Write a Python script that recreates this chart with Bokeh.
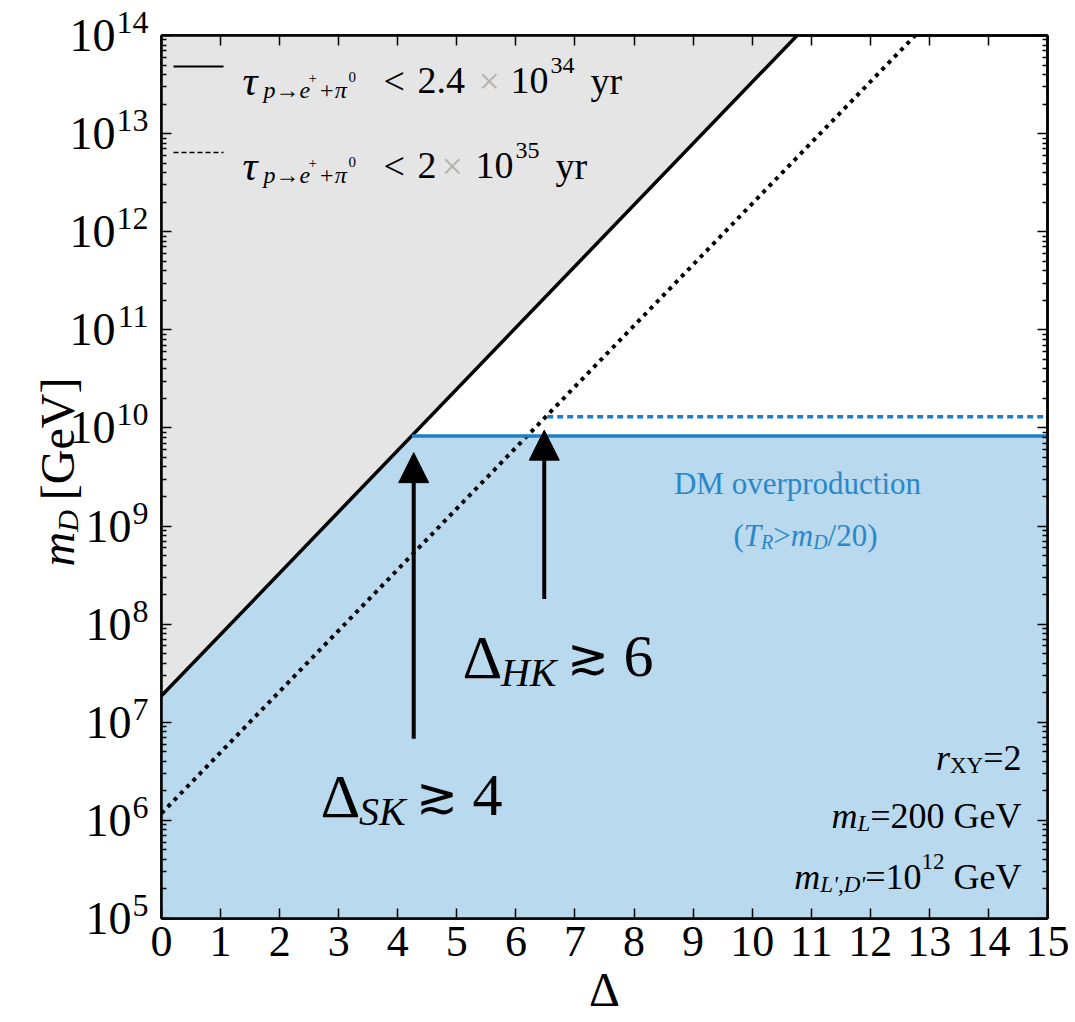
import numpy as np
from bokeh.plotting import figure
from bokeh.layouts import row, column
from bokeh.models import (Range1d, LinearAxis, LogAxis, FixedTicker, Label, Arrow,
                          NormalHead, CustomJSTickFormatter)
from bokeh.embed import file_html
from bokeh.resources import INLINE

# ---------------- data ----------------
X_RANGE = [0.0, 15.0]
Y_RANGE = [1e5, 1e14]
x_tick_values = list(range(0, 16))
y_tick_exponents = list(range(5, 15))

# proton-decay bounds (straight lines in log space)
sk_delta = [0.0, 10.76]          # tau < 2.4e34 yr
sk_mD = [1.86e7, 1.0e14]
hk_delta = [0.0, 12.76]          # tau < 2e35 yr
hk_mD = [1.18e6, 1.0e14]

# DM overproduction boundaries
dm_delta = [4.24, 15.0]
dm_mD = [8.3e9, 8.3e9]
dm2_delta = [6.53, 15.0]
dm2_mD = [1.3e10, 1.3e10]

# arrows (SK, HK)
arrow_delta = [4.27, 6.48]
arrow_tail_mD = [6.8e6, 1.8e8]
arrow_head_mD = [5.6e9, 9.5e9]

# ---------------- styles / geometry (page pixels) ----------------
SERIF = "Liberation Serif"
GRAY_FILL = "#e5e5e5"
BLUE_FILL = "#b9d9ee"
BLUE_LINE = "#1f80c6"
BLUE_TEXT = "#2b87c9"

PAGE_H = 1021
LEFT_W = 149                       # strip with y tick labels / y title
FX0, FX1, FY0, FY1 = 161.0, 1047.0, 35.0, 918.0   # plot frame
MAIN_LEFT = LEFT_W
MAIN_W = 924

L0, L1 = np.log10(Y_RANGE[0]), np.log10(Y_RANGE[1])
DEC = (FY1 - FY0) / (L1 - L0)
XU = (FX1 - FX0) / (X_RANGE[1] - X_RANGE[0])


def to_data(px, py):
    x = X_RANGE[0] + (px - FX0) / XU
    ly = L1 - (py - FY0) / DEC
    return float(x), float(10 ** ly)


p = figure(frame_width=int(FX1 - FX0), frame_height=int(FY1 - FY0),
           x_range=Range1d(*X_RANGE), y_range=Range1d(*Y_RANGE),
           y_axis_type="log", output_backend="svg", toolbar_location=None,
           min_border_left=int(FX0 - MAIN_LEFT),
           min_border_right=int(MAIN_LEFT + MAIN_W - FX1),
           min_border_top=int(FY0),
           min_border_bottom=int(PAGE_H - FY1))
p.grid.visible = False
p.outline_line_color = "black"
p.outline_line_width = 2.5

# fills
gray_x = [sk_delta[0], sk_delta[1], X_RANGE[0]]
gray_y = [sk_mD[0], sk_mD[1], Y_RANGE[1]]
p.patch(gray_x, gray_y, fill_color=GRAY_FILL, line_color=None)
blue_x = [X_RANGE[0], sk_delta[0], dm_delta[0], dm_delta[1], X_RANGE[1]]
blue_y = [Y_RANGE[0], sk_mD[0], dm_mD[0], dm_mD[1], Y_RANGE[0]]
p.patch(blue_x, blue_y, fill_color=BLUE_FILL, line_color=None)

# lines
p.line(sk_delta, sk_mD, line_color="black", line_width=3.5)
p.line(hk_delta, hk_mD, line_color="black", line_width=4, line_dash="4 5")
p.line(dm_delta, dm_mD, line_color=BLUE_LINE, line_width=3.5)
p.line(dm2_delta, dm2_mD, line_color=BLUE_LINE, line_width=3.5, line_dash="6 4")

# arrows
for xd, y0, y1 in zip(arrow_delta, arrow_tail_mD, arrow_head_mD):
    p.add_layout(Arrow(x_start=xd, y_start=y0, x_end=xd, y_end=y1,
                       line_width=4, line_color="black",
                       end=NormalHead(size=30, fill_color="black",
                                      line_color="black", line_width=1)))

# ---------------- axes ----------------
y_major = [10.0 ** e for e in y_tick_exponents]
y_minor = [k * 10.0 ** e for e in y_tick_exponents[:-1] for k in range(2, 10)]
blank = CustomJSTickFormatter(code="return '';")


def style_axis(ax):
    ax.axis_line_width = 2.5
    ax.axis_line_color = "black"
    ax.major_tick_in = 10
    ax.major_tick_out = 0
    ax.minor_tick_in = 5
    ax.minor_tick_out = 0
    ax.major_tick_line_width = 1.5
    ax.minor_tick_line_width = 1.5
    ax.major_tick_line_color = "black"
    ax.minor_tick_line_color = "black"
    ax.major_label_standoff = 0


def blank_labels(ax):
    ax.major_label_text_font_size = "1px"
    ax.formatter = blank


xa = p.xaxis[0]
xa.ticker = FixedTicker(ticks=x_tick_values, minor_ticks=[])
style_axis(xa)
xa.major_label_text_font = SERIF
xa.major_label_text_font_size = "44px"
xa.major_label_text_color = "black"
xa.major_label_standoff = 8
xa.axis_label = "\u0394"
xa.axis_label_text_font = SERIF
xa.axis_label_text_font_size = "48px"
xa.axis_label_text_font_style = "normal"
xa.axis_label_text_color = "black"
xa.axis_label_standoff = 4

ya = p.yaxis[0]
ya.ticker = FixedTicker(ticks=y_major, minor_ticks=y_minor)
style_axis(ya)
blank_labels(ya)
top = LinearAxis(ticker=FixedTicker(ticks=x_tick_values, minor_ticks=[]))
style_axis(top)
blank_labels(top)
p.add_layout(top, "above")
right = LogAxis(ticker=FixedTicker(ticks=y_major, minor_ticks=y_minor))
style_axis(right)
blank_labels(right)
p.add_layout(right, "right")

# ---------------- left strip sharing the plot's log scale ----------------
left = figure(width=LEFT_W, height=PAGE_H,
              x_range=Range1d(0, LEFT_W),
              y_range=Range1d(10 ** (L1 - (PAGE_H - FY0) / DEC), 10 ** (L1 + FY0 / DEC)),
              y_axis_type="log", x_axis_location=None, y_axis_location=None,
              toolbar_location=None, output_backend="svg", min_border=0,
              outline_line_color=None)
left.grid.visible = False

# ---------------- text helpers ----------------
CW = {' ': .25, '(': .333, ')': .333, '+': .564, ',': .25, '.': .25, '/': .278,
      '<': .564, '=': .564, '>': .564, 'D': .722, 'G': .722, 'M': .889, 'V': .722,
      '[': .333, ']': .333, 'c': .444, 'd': .5, 'e': .444, 'i': .278, 'n': .5,
      'o': .5, 'p': .5, 'r': .333, 't': .278, 'u': .5, 'v': .5, 'y': .5,
      '\u00d7': .564, "'": .18, 'X': .722, 'Y': .722, '\u0394': .62,
      '\u2273': .84, '\u2192': .9, '\u03c0': .55, '\u03c4': .45}
CWI = {'m': .722, 'D': .722, 'L': .556, 'T': .556, 'R': .611, 'r': .389, 'p': .5,
       'e': .444, 'S': .5, 'K': .667, 'H': .722, "'": .214, ',': .25}


def twidth(s, size, italic=False):
    w = 0.0
    for c in s:
        if c.isdigit():
            w += .5
        elif italic and c in CWI:
            w += CWI[c]
        else:
            w += CW.get(c, .5)
    return w * size


def put(fig, s, x, y, size, italic=False, color="black", angle=0.0, align="left",
        baseline="alphabetic", y_offset=0):
    fig.add_layout(Label(x=x, y=y, text=s, text_font=SERIF,
                         text_font_size=f"{size}px",
                         text_font_style="italic" if italic else "normal",
                         text_color=color, text_align=align,
                         text_baseline=baseline, angle=angle, y_offset=y_offset))


def put_px(s, px, py, size, italic=False, color="black", align="left"):
    x, y = to_data(px, py)
    put(p, s, x, y, size, italic, color, align=align)


def rich(parts, px, py, align="left"):
    """parts: (text, size, italic, color, rise_px)"""
    if align == "right":
        x = px
        for t, s, it, c, r in reversed(parts):
            trail = len(t) - len(t.rstrip(' '))
            if t.strip():
                put_px(t.strip(), x - trail * .25 * s, py - r, s, it, c, align="right")
            x -= twidth(t, s, it)
        return
    total = sum(twidth(t, s, it) for t, s, it, c, r in parts)
    x = px - total / 2 if align == "center" else px
    for t, s, it, c, r in parts:
        lead = len(t) - len(t.lstrip(' '))
        if t.strip():
            put_px(t.strip(), x + lead * .25 * s, py - r, s, it, c)
        x += twidth(t, s, it)


def key_line(px0, px1, py, dash, width):
    x0, y0 = to_data(px0, py)
    x1, _ = to_data(px1, py)
    p.add_layout(Arrow(x_start=x0, y_start=y0, x_end=x1, y_end=y0, end=None,
                       line_color="black", line_width=width, line_dash=dash))


# legend (pieces at fixed pixel columns, baseline py)
key_line(173, 223, 66, "solid", 2)
key_line(173, 223, 152, "5 3", 1.6)
XGRAY = "#b3b3b3"
for py, bound, expo, x_lt, x_b, x_x, x_10, x_yr in [
        (80, "2.4", "34", 383, 417, 478, 510, 590),
        (165, "2", "35", 383, 417, 441, 475, 555)]:
    put_px("\u03c4", 242, py, 42, italic=True)
    put_px("p\u2192e", 263, py + 9, 24, italic=True)
    put_px("+", 308, py - 3, 15)
    put_px("+\u03c0", 318, py + 9, 24, italic=True)
    put_px("0", 348, py - 4, 15)
    put_px("<", x_lt, py, 38)
    put_px(bound, x_b, py, 38)
    put_px("\u00d7", x_x, py, 38, color=XGRAY)
    put_px("10", x_10, py, 38)
    put_px(expo, x_10 + 40, py - 15, 24)
    put_px("yr", x_yr, py, 38)

# DM overproduction
rich([("DM overproduction", 31, False, BLUE_TEXT, 0)], 797, 483, "center")
rich([("(", 31, False, BLUE_TEXT, 0), ("T", 31, True, BLUE_TEXT, 0),
      ("R", 20, True, BLUE_TEXT, -6), (">", 31, False, BLUE_TEXT, 0),
      ("m", 31, True, BLUE_TEXT, 0), ("D", 20, True, BLUE_TEXT, -6),
      ("/20)", 31, False, BLUE_TEXT, 0)], 805, 535, "center")

# experiment reach labels
rich([("\u0394", 62, False, "black", 0), ("SK", 40, True, "black", -16),
      (" ", 40, False, "black", 0), ("\u2273", 50, False, "black", 0),
      (" 4", 60, False, "black", 0)], 320, 795)
rich([("\u0394", 62, False, "black", 0), ("HK", 40, True, "black", -16),
      (" ", 40, False, "black", 0), ("\u2273", 50, False, "black", 0),
      (" 6", 60, False, "black", 0)], 462, 656)

# parameters
rich([("r", 36, True, "black", 0), ("XY", 23, False, "black", -8),
      ("=2", 36, False, "black", 0)], 1021, 757, "right")
rich([("m", 36, True, "black", 0), ("L", 23, True, "black", -8),
      ("=200 GeV", 36, False, "black", 0)], 1021, 815, "right")
rich([("m", 36, True, "black", 0), ("L',D'", 23, True, "black", -8),
      ("=10", 36, False, "black", 0), ("12", 23, False, "black", 15),
      (" GeV", 36, False, "black", 0)], 1021, 876, "right")

# y tick labels: "10" with raised exponent, on the shared log scale
TICK_RIGHT = LEFT_W - 1
for e in y_tick_exponents:
    es = str(e)
    ew = twidth(es, 32)
    put(left, es, TICK_RIGHT, 10.0 ** e, 32, align="right", baseline="middle", y_offset=13)
    put(left, "10", TICK_RIGHT - ew - 1, 10.0 ** e, 46, align="right", baseline="middle")

# y title (rotated, reading upwards)
ang = np.pi / 2
ys = 566.0
base_x = 57.0
_, yy = to_data(0, ys)
put(left, "m", base_x, yy, 48, italic=True, angle=ang)
ys -= twidth("m", 48, True)
_, yy = to_data(0, ys)
put(left, "D", base_x + 10, yy, 30, italic=True, angle=ang)
ys -= twidth("D", 30, True) + 10
_, yy = to_data(0, ys)
put(left, "[GeV]", base_x, yy, 48, angle=ang)

layout = row(column(left), column(p))
open("out.html", "w", encoding="utf-8").write(file_html(layout, INLINE))
